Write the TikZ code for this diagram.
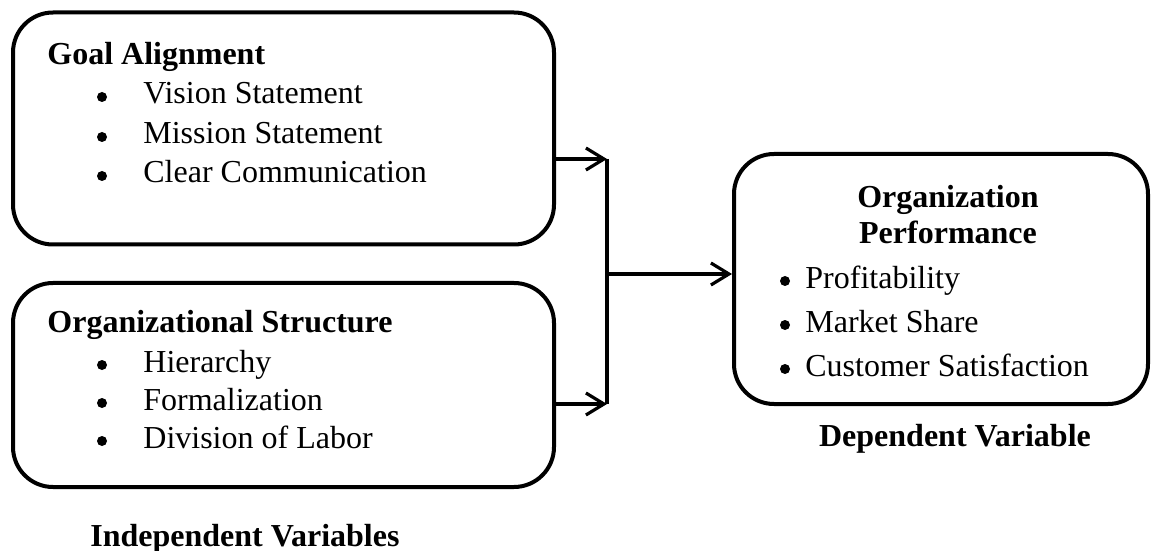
\documentclass[tikz,border=0pt]{standalone}
\usepackage{fontspec}
\setmainfont{Liberation Serif}
\usepackage{xcolor}
\usetikzlibrary{arrows.meta, positioning}

\begin{document}
\begin{tikzpicture}[
    x=0.5pt, y=-0.5pt,
    font=\fontsize{16}{19}\selectfont,
    box/.style={draw, line width=2pt, rounded corners=20pt, inner sep=0pt},
    head/.style={anchor=base west, inner sep=0pt, font=\fontsize{16}{19}\selectfont\bfseries},
    item/.style={anchor=base west, inner sep=0pt},
    dot/.style={circle, fill, inner sep=0pt, minimum size=5pt},
    arrow/.style={-{Straight Barb[length=9pt, width=11pt]}, line width=1.6pt}
]
\useasboundingbox (0,0) rectangle (1153,551);

% boxes
\node[box, minimum width=270.5pt, minimum height=116pt] (goal) at (283.5,128.5) {};
\node[box, minimum width=270.5pt, minimum height=102pt] (struct) at (283.5,385) {};
\node[box, minimum width=207pt, minimum height=125pt] (perf) at (941,279) {};

% goal alignment
\node[head] (goalhd) at (47,65) {Goal Alignment};
\node[dot] (g1) at (102,97) {};
\node[item] (g1t) at (143,104) {Vision Statement};
\node[dot] (g2) at (102,137) {};
\node[item] (g2t) at (143,144) {Mission Statement};
\node[dot] (g3) at (102,176) {};
\node[item] (g3t) at (143,183) {Clear Communication};

% organizational structure
\node[head] (structhd) at (47,332) {Organizational Structure};
\node[dot] (s1) at (102,365) {};
\node[item] (s1t) at (143,372) {Hierarchy};
\node[dot] (s2) at (102,403) {};
\node[item] (s2t) at (143,410) {Formalization};
\node[dot] (s3) at (102,441) {};
\node[item] (s3t) at (143,448) {Division of Labor};

% organization performance
\node[head, anchor=base] (perfhd) at (948,208) {Organization};
\node[head, anchor=base] (perfhd2) at (948,244) {Performance};
\node[dot] (p1) at (785,281) {};
\node[item] (p1t) at (805,288) {Profitability};
\node[dot] (p2) at (785,325) {};
\node[item] (p2t) at (805,332) {Market Share};
\node[dot] (p3) at (785,369) {};
\node[item] (p3t) at (805,376) {Customer Satisfaction};

% captions
\node[head, anchor=base] (dep) at (955,446) {Dependent Variable};
\node[head] (indep) at (90,546) {Independent Variables};

% connectors
\coordinate (jtop) at (607,159);
\coordinate (jbot) at (607,404);
\coordinate (jmid) at (607,274);
\draw[arrow] (goal.east |- jtop) -- (jtop);
\draw[arrow] (struct.east |- jbot) -- (jbot);
\draw[line width=1.6pt] (jtop) -- (jbot);
\draw[arrow] (jmid) -- (perf.west |- jmid);
\end{tikzpicture}
\end{document}
